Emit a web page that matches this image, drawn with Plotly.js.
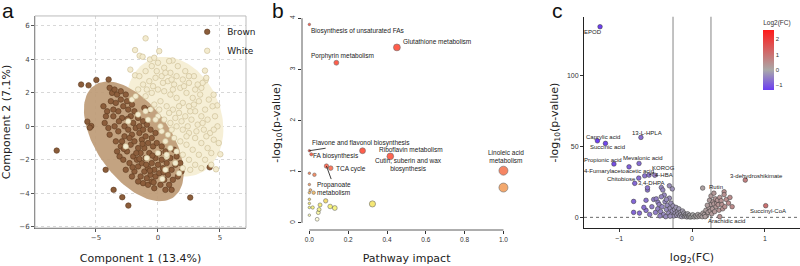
<!DOCTYPE html>
<html><head><meta charset="utf-8">
<script src="https://cdn.plot.ly/plotly-3.0.1.min.js"></script>
<style>html,body{margin:0;padding:0;background:#fff}#chart{width:800px;height:266px}</style>
</head><body><div id="chart"></div>
<script>
// ---------- Panel a: PCA scores (Component 1, Component 2) ----------
const brownPoints = [
[-8.17,-1.45],[-6.2,2.5],[-5.6,2.45],[-4.97,2.77],[-3.98,2.8],[-5.7,0.28],[-5.38,0.02],[-5.5,-0.08],[-4.22,-2.6],[-3.58,-3.8],[-2.88,-4.24],[-2.39,-4.74],[2.6,-4.26],[4.17,-2.45],
[-4.4,1.2],[-4.1,0.9],[-3.9,2.3],[-3.7,2.0],[-3.5,2.2],[-3.3,1.9],[-3.8,1.5],[-3.4,1.4],[-3.0,1.6],[-2.8,1.2],[-4.3,0.2],[-4.0,-0.1],[-3.6,0.6],[-3.2,0.9],[-2.9,0.5],[-3.5,0.0],[-3.2,-0.3],[-2.6,1.9],[-2.4,1.0],[-2.2,0.6],[-2.7,0.0],[-3.9,-0.5],[-4.2,0.6],[-3.0,2.1],[-2.5,1.5],[-3.6,1.0],[-2.1,1.3],
[-3.4,-0.9],[-3.0,-1.2],[-2.7,-0.6],[-2.4,-0.2],[-2.1,-0.5],[-1.8,-0.1],[-1.5,-0.4],[-3.1,-1.8],[-2.8,-2.0],[-2.5,-1.5],[-2.2,-1.1],[-1.9,-0.9],[-1.6,-1.3],[-1.3,-0.8],[-1.0,-0.6],[-2.6,-2.6],[-2.3,-2.2],[-2.0,-1.8],[-1.7,-2.0],[-1.4,-1.6],[-1.1,-1.3],[-0.8,-1.0],[-0.5,-0.7],[-1.9,-2.7],[-1.6,-2.4],[-1.3,-2.2],[-1.0,-1.9],[-0.7,-1.6],[-0.4,-1.2],[-0.2,-0.4],[-1.2,0.3],[-0.9,0.1],[-0.6,-0.2],[-1.6,0.5],[-1.9,0.9],[-0.7,1.0],[-1.1,1.1],[-3.3,-1.5],[-2.9,-0.9],[-2.0,0.2],[-1.5,0.0],[-2.3,-0.7],[-1.2,-0.2],
[-1.4,-3.0],[-1.1,-2.7],[-0.8,-2.5],[-0.5,-2.2],[-0.2,-1.9],[0.1,-1.6],[-1.2,-3.4],[-0.9,-3.1],[-0.6,-2.9],[-0.3,-2.6],[0.0,-2.3],[0.3,-2.0],[-0.8,-3.5],[-0.5,-3.3],[-0.2,-3.0],[0.1,-2.8],[0.4,-2.5],[0.7,-2.2],[0.2,-3.5],[0.5,-3.2],[0.8,-2.9],[1.1,-2.6],[1.4,-2.3],[0.9,-3.5],[1.2,-3.2],[1.6,-3.0],[1.8,-2.2],[1.5,-1.8],[1.0,-1.9],[0.6,-1.5],[-1.6,-3.3],[-0.3,-3.7],[1.1,-3.8],[0.3,-1.2],[-0.1,-1.0],[1.9,-2.7],[1.3,-1.4],[-2.1,-3.0],[0.6,-3.8],
[-2.75,-1.35],[-2.05,-2.45],[-1.25,-1.05],[-0.45,-1.75],[-0.95,-2.3],[-1.75,-1.6],[-2.45,0.45],[-3.15,0.3],[-0.35,-3.35],[0.45,-2.75],[-1.5,-1.95],[-0.65,-2.65]
];
const whitePoints = [
[-1.0,5.26],[-1.85,4.56],[-1.48,4.22],[-1.24,4.16],[0.1,4.5],[1.18,3.94],[3.79,3.33],[3.84,2.75],[4.49,1.89],[4.78,1.25],[5.03,-1.67],[4.68,-2.57],[-2.23,3.39],[-1.85,3.05],[-0.65,4.0],
[-1.5,3.0],[-1.0,3.3],[-0.5,3.6],[0.0,3.8],[0.5,3.5],[1.0,3.2],[1.5,3.0],[2.0,2.8],[2.5,2.6],[3.0,2.2],[3.5,2.3],[-1.2,2.5],[-0.7,2.7],[-0.2,2.9],[0.3,3.0],[0.8,2.7],[1.3,2.5],[1.8,2.3],[2.3,2.0],[2.8,1.7],[3.3,1.5],[3.8,1.0],[-1.0,1.8],[-0.5,2.0],[0.0,2.2],[0.5,2.1],[1.0,1.9],[1.5,1.7],[2.0,1.4],[2.5,1.2],[3.0,0.9],[3.5,0.6],[4.0,0.4],[-0.3,1.3],[0.2,1.5],[0.7,1.2],[1.2,1.0],[1.7,0.8],[2.2,0.6],[2.7,0.4],[3.2,0.1],[3.7,-0.2],[4.2,-0.4],[0.0,0.6],[0.5,0.4],[1.0,0.2],[1.5,0.0],[2.0,-0.2],[2.5,-0.4],[3.0,-0.7],[3.5,-1.0],[4.0,-1.3],[4.5,-0.8],[0.3,-0.3],[0.8,-0.5],[1.3,-0.7],[1.8,-0.9],[2.3,-1.1],[2.8,-1.4],[3.3,-1.7],[3.8,-2.0],[4.3,-1.6],[1.0,-1.3],[1.5,-1.5],[2.0,-1.7],[2.5,-2.0],[3.0,-2.3],[3.5,-2.5],[2.0,-2.5],[1.4,-2.2],[4.6,0.6],[4.4,1.2],[4.1,1.6],[3.6,2.6],[2.9,3.0],[2.2,3.3],[1.6,3.6],[0.9,3.9],[-0.3,4.1],[-0.9,2.2],[-0.6,1.0],[0.2,0.0],[0.6,-0.9],[1.1,-0.2],[1.9,0.3],[2.6,0.9],[3.4,1.9],[2.1,2.4],[1.2,2.2],[0.4,2.6],[-0.1,3.3],[4.8,0.0],[4.9,-1.0],[4.3,-2.3],[2.6,-2.6],[3.9,2.9],[-1.6,2.2],[-0.8,0.4],[1.7,1.2],[2.4,0.0],[3.1,-0.3],[0.9,0.8],[3.6,0.2],[2.9,1.3],[1.4,0.5],[0.7,-1.8],[1.7,-2.8],[4.5,-0.2],[3.9,-0.6],[1.1,2.8],[-0.4,2.4],[0.1,1.0],[2.3,-0.6],[3.2,2.5],[2.5,3.0],[0.6,3.2],
[-2.6,-1.2],[-2.4,0.3],[-1.6,0.7],[0.35,-3.15],[0.7,-1.7],[-1.0,0.9],[-2.1,1.6],[-1.8,1.8],[0.6,-2.6],[-0.9,-1.9],[-0.2,0.4],[0.0,-1.6]
];
// confidence ellipses: [centre x, centre y, var x, cov xy, var y] (scaled)
const brownEllipse = [-1.95, -0.9, 16.2, -7.6, 12.8];
const whiteEllipse = [1.35, 0.58, 15.4, -3.0, 12.8];
const groupNames = ['Brown', 'White'];
const pcaXTicks = [-5, 0, 5];
const pcaYTicks = [-6, -4, -2, 0, 2, 4, 6];

// ---------- Panel b: pathway analysis ----------
const pathNames = ['Biosynthesis of unsaturated FAs','Glutathione metabolism','Porphyrin metabolism','Flavone and flavonol biosynthesis','FA biosynthesis','Riboflavin metabolism','Cutin, suberin and wax<br>biosynthesis','TCA cycle','Propanoate<br>metabolism','Linoleic acid<br>metabolism','','','','','','','','','','','','','','','','','','','',''];
const pathImpact = [0, 0.451, 0.139, 0, 0.01, 0.274, 0.417, 0.110, 0.088, 1.0, 1.0, 0, 0.026, 0, 0.005, 0, 0.022, 0, 0, 0, 0.017, 0, 0.040, 0.046, 0.050, 0.055, 0.084, 0.107, 0.131, 0.325];
const pathLogP = [3.88, 3.43, 3.13, 1.41, 1.34, 1.41, 1.30, 1.07, 1.11, 1.02, 0.69, 0.97, 0.94, 0.75, 0.64, 0.59, 0.59, 0.46, 0.38, 0.30, 0.30, 0.15, 0.07, 0.20, 0.26, 0.35, 0.43, 0.32, 0.29, 0.37];
const impactTicks = [0, 0.2, 0.4, 0.6, 0.8, 1.0];
const logPTicks = [0, 1, 2, 3, 4];

// ---------- Panel c: volcano ----------
const volcanoNames = ['EPOD','Caprylic acid','Succinic acid','13-L-HPLA','Propionic acid','Mevalonic acid','4-Fumarylacetoacetic acid','KOROG','4-HBA','Chitobiose','3,4-DHPA','3-dehydroshikimate','Rutin','Succinyl-CoA','Arachidic acid'];
const volcanoLabelledFC = [-1.26,-1.296,-1.186,-0.70,-1.07,-0.726,-0.863,-0.589,-0.51,-0.73,-0.785,0.73,0.146,1.01,0.38];
const volcanoLabelledP = [134,53.8,52.0,56.2,37.5,37.9,35.5,29.7,29.6,27.6,23.9,26.2,20.6,8.2,0.5];
const volcanoOtherFC = [-0.80,-0.80,-0.63,-0.63,-0.61,-0.61,-0.525,-0.49,-0.466,-0.42,-0.40,-0.38,-0.31,-0.27,-0.55,-0.50,-0.47,-0.45,-0.43,-0.41,-0.39,-0.37,-0.35,-0.34,-0.32,-0.31,-0.30,-0.29,-0.28,-0.27,-0.26,-0.25,-0.24,-0.23,-0.22,-0.21,-0.20,-0.19,-0.18,-0.17,-0.16,-0.15,-0.14,-0.13,-0.12,-0.11,-0.10,-0.09,-0.08,-0.07,-0.06,-0.05,-0.04,-0.03,-0.02,-0.35,-0.42,-0.58,-0.44,-0.36,-0.30,-0.66,-0.72,-0.648,
0.00,0.01,0.03,0.05,0.07,0.08,0.10,0.12,0.14,0.15,0.17,0.19,0.20,0.22,0.23,0.24,0.25,0.26,0.27,0.28,0.29,0.30,0.31,0.32,0.33,0.34,0.35,0.36,0.37,0.38,0.40,0.41,0.42,0.44,0.44,0.45,0.47,0.50,0.52,0.55,0.26,0.30,0.21,0.18];
const volcanoOtherP = [11.2,3.5,12,4.9,19.2,20.8,12.6,13,10.5,21,19.2,15.7,22.2,20,7.5,3.5,6,9,4,7.5,2,11,5.5,8.5,3,13.5,6.5,10,2,4.5,8,1,5.5,3,7,1.5,4,2.5,6,1,3.5,2,0.5,4.5,1.5,3,0.8,2,1.2,0.3,2.5,1,0.5,1.5,0.2,12.5,14.5,2,1,0.5,0.8,7,3,29.2,
0.6,1.8,0.3,1,0.4,2,0.8,1.5,0.5,3,2,5,1.2,3.5,7,12,4.5,9,2.5,6,11,9.4,4,13,7.5,10,12,8.9,5,14,11.7,9,6,18,16,7.5,12.5,10,14,7.5,15,17,8.5,0.5];
const fcThreshold = [-0.26, 0.26];
const fcTicks = [-1, 0, 1];
const volcanoYTicks = [0, 50, 100];
const fcBarTicks = [-1, 0, 1, 2];

// ---------- helpers ----------
function ellipse(p) {
  const [cx, cy, a, b, c] = p;
  const l11 = Math.sqrt(a), l21 = b / l11, l22 = Math.sqrt(c - l21 * l21);
  const xs = [], ys = [];
  for (let i = 0; i <= 120; i++) {
    const t = 2 * Math.PI * i / 120;
    xs.push(cx + l11 * Math.cos(t));
    ys.push(cy + l21 * Math.cos(t) + l22 * Math.sin(t));
  }
  return {xs, ys};
}
const bE = ellipse(brownEllipse), wE = ellipse(whiteEllipse);
const titleFont = {family: 'DejaVu Sans, Verdana, sans-serif', size: 11, color: '#222'};
const labFont = {family: 'Liberation Sans, Arial, sans-serif', size: 6.5, color: '#222'};

const traces = [
  {type:'scatter', mode:'lines', x:wE.xs, y:wE.ys, fill:'toself', fillcolor:'#f6efd6', line:{width:0}, hoverinfo:'skip', showlegend:false, xaxis:'x', yaxis:'y'},
  {type:'scatter', mode:'lines', x:bE.xs, y:bE.ys, fill:'toself', fillcolor:'rgba(190,155,118,0.92)', line:{width:0}, hoverinfo:'skip', showlegend:false, xaxis:'x', yaxis:'y'},
  {type:'scatter', mode:'markers', name:groupNames[0], x:brownPoints.map(p=>p[0]), y:brownPoints.map(p=>p[1]),
   marker:{size:5.5, color:'#8b5d3b', line:{color:'#5c3a20', width:0.6}}, xaxis:'x', yaxis:'y'},
  {type:'scatter', mode:'markers', name:groupNames[1], x:whitePoints.map(p=>p[0]), y:whitePoints.map(p=>p[1]),
   marker:{size:5.5, color:'#f3ebcf', line:{color:'#c9ba90', width:0.6}}, xaxis:'x', yaxis:'y'},
  {type:'scatter', mode:'markers', x:pathImpact, y:pathLogP, showlegend:false, xaxis:'x2', yaxis:'y2',
   marker:{size:pathImpact.map(v=>2.5+6.5*Math.sqrt(v)), color:pathLogP, cmin:0, cmax:3.9, showscale:false,
     colorscale:[[0,'#ffffff'],[0.03,'#fdfbb0'],[0.08,'#f3ef45'],[0.115,'#f0c830'],[0.155,'#f0a030'],[0.18,'#ef8030'],[0.255,'#f05a25'],[0.285,'#ff3515'],[0.36,'#ff1a00'],[1,'#ff1a00']],
     line:{color:'#333', width:0.6}}},
  {type:'scatter', mode:'markers', x:volcanoOtherFC.concat(volcanoLabelledFC), y:volcanoOtherP.concat(volcanoLabelledP), showlegend:false, xaxis:'x3', yaxis:'y3',
   marker:{size:4.6, color:volcanoOtherFC.concat(volcanoLabelledFC), cmin:-1.3, cmax:2.6,
     colorscale:[[0,'#6b3cf2'],[0.333,'#a9a9a9'],[1,'#ff1a1a']], line:{color:'#333', width:0.5},
     colorbar:{x:0.954, xanchor:'left', xpad:0, ypad:0, y:0.6617, yanchor:'bottom', len:0.275, lenmode:'fraction', thickness:11, outlinewidth:0,
       tickvals:fcBarTicks, ticks:'', tickfont:{family:'Liberation Sans, Arial', size:6, color:'#333'},
       title:{text:'Log2(FC)', side:'top', font:{family:'Liberation Sans, Arial', size:6.5, color:'#333'}}}}}
];

// label offsets in pixels (styling): [dx, dy-up] for plain labels; [ax, ay-down, 1] for labels with a leader line
const pathOff = [[49,-7],[40,6],[6,7],[52,-8,1],[25,-2],[48,1],[18,-9],[20,-1],[8,22,1],[3,14]];
const volOff = [[-7,-5],[6,4],[2,-4],[6,4],[-11,4],[4,5],[-10,-4],[14,-7,1],[9,0],[-17,-1],[17,0],[11,4],[13,1],[2,-5],[7,-4]];

const annotations = [];
pathNames.forEach((n,i)=>{
  if(!n) return;
  const o = pathOff[i];
  if (o[2]) annotations.push({xref:'x2', yref:'y2', x:pathImpact[i], y:pathLogP[i], text:n, showarrow:true, arrowhead:0, arrowwidth:0.8, arrowcolor:'#111', ax:o[0], ay:o[1], font:labFont, align:'left'});
  else annotations.push({xref:'x2', yref:'y2', x:pathImpact[i], y:pathLogP[i], text:n, showarrow:false, xshift:o[0], yshift:o[1], font:labFont, align:'center'});
});
volcanoNames.forEach((n,i)=>{
  const o = volOff[i];
  const f = {family:'Liberation Sans, Arial, sans-serif', size:6, color:'#222'};
  if (o[2]) annotations.push({xref:'x3', yref:'y3', x:volcanoLabelledFC[i], y:volcanoLabelledP[i], text:n, showarrow:true, arrowhead:0, arrowwidth:0.7, arrowcolor:'#111', ax:o[0], ay:o[1], font:f});
  else annotations.push({xref:'x3', yref:'y3', x:volcanoLabelledFC[i], y:volcanoLabelledP[i], text:n, showarrow:false, xshift:o[0], yshift:o[1], font:f});
});
[['a',0.0],['b',0.337],['c',0.688]].forEach(([t,x])=>annotations.push({xref:'paper', yref:'paper', x:x, y:1.01, xanchor:'left', yanchor:'top', text:t, showarrow:false, font:{family:'Liberation Sans, Arial, sans-serif', size:21, color:'#111'}}));

const shapes = [
  {type:'rect', xref:'x domain', yref:'y domain', x0:0, x1:1, y0:0, y1:1, line:{color:'#bbb', width:1}, layer:'above'},
  {type:'line', xref:'x2', yref:'y2 domain', x0:0, x1:1, y0:0, y1:0, line:{color:'#333', width:0.8}},
  {type:'line', xref:'x2 domain', yref:'y2', x0:0, x1:0, y0:0, y1:4, line:{color:'#333', width:0.8}},
  {type:'line', xref:'x3', yref:'y3 domain', x0:fcThreshold[0], x1:fcThreshold[0], y0:0, y1:1, line:{color:'#777', width:0.9}, layer:'below'},
  {type:'line', xref:'x3', yref:'y3 domain', x0:fcThreshold[1], x1:fcThreshold[1], y0:0, y1:1, line:{color:'#777', width:0.9}, layer:'below'},
  {type:'line', xref:'x3 domain', yref:'y3', x0:0, x1:1, y0:0, y1:0, line:{color:'#444', width:0.8, dash:'dot'}, layer:'below'}
];

const tickA = {family:'DejaVu Sans, Verdana, sans-serif', size:7, color:'#444'};
const layout = {
  width:800, height:266, margin:{l:0,r:0,t:0,b:0,autoexpand:false}, paper_bgcolor:'#fff', plot_bgcolor:'#fff',
  showlegend:true,
  legend:{x:0.234, y:0.935, xanchor:'left', yanchor:'top', bgcolor:'rgba(0,0,0,0)', font:{family:'DejaVu Sans, Verdana, sans-serif', size:9, color:'#222'}, itemwidth:30, tracegroupgap:0},
  xaxis:{domain:[0.04375,0.3075], range:[-9.92,7.1], tickvals:pcaXTicks, ticks:'outside', ticklen:3, tickcolor:'#555', tickfont:tickA,
    showgrid:true, gridcolor:'#d8d8d8', griddash:'dot', zeroline:false, showline:true, linecolor:'#666', anchor:'y',
    title:{text:'Component 1 (13.4%)', font:titleFont, standoff:12}},
  yaxis:{domain:[0.1429,0.94], range:[-6.08,6.6], tickvals:pcaYTicks, ticks:'outside', ticklen:3, tickcolor:'#555', tickfont:tickA,
    showgrid:true, gridcolor:'#d8d8d8', griddash:'dot', zeroline:false, showline:true, linecolor:'#666', anchor:'x',
    title:{text:'Component 2 (7.1%)', font:titleFont, standoff:8}},
  xaxis2:{domain:[0.3775,0.639], range:[-0.038,1.04], tickvals:impactTicks, tickformat:'.1f', ticks:'outside', ticklen:3, tickcolor:'#333',
    tickfont:{family:'Liberation Sans, Arial', size:6.5, color:'#333'}, showgrid:false, zeroline:false, showline:false, anchor:'y2',
    title:{text:'Pathway impact', font:titleFont, standoff:12}},
  yaxis2:{domain:[0.1353,0.941], range:[-0.14,4.05], tickvals:logPTicks, tickangle:-90, ticks:'outside', ticklen:3, tickcolor:'#333',
    tickfont:{family:'Liberation Sans, Arial', size:6.5, color:'#333'}, showgrid:false, zeroline:false, showline:false, anchor:'x2',
    title:{text:'-log<sub>10</sub>(p-value)', font:titleFont, standoff:6}},
  xaxis3:{domain:[0.73,1.0], range:[-1.48,1.48], tickvals:fcTicks, ticks:'outside', ticklen:3, tickcolor:'#333',
    tickfont:{family:'Liberation Sans, Arial', size:7, color:'#333'}, showgrid:false, zeroline:false, showline:true, linecolor:'#222', anchor:'y3',
    title:{text:'log<sub>2</sub>(FC)', font:titleFont, standoff:12}},
  yaxis3:{domain:[0.1417,0.937], range:[-7.7,141], tickvals:volcanoYTicks, ticks:'outside', ticklen:3, tickcolor:'#333',
    tickfont:{family:'Liberation Sans, Arial', size:7, color:'#333'}, showgrid:false, zeroline:false, showline:true, linecolor:'#222', anchor:'x3',
    title:{text:'-log<sub>10</sub>(p-value)', font:titleFont, standoff:6}},
  annotations:annotations, shapes:shapes
};
Plotly.newPlot('chart', traces, layout, {staticPlot:true, displayModeBar:false});
</script></body></html>
